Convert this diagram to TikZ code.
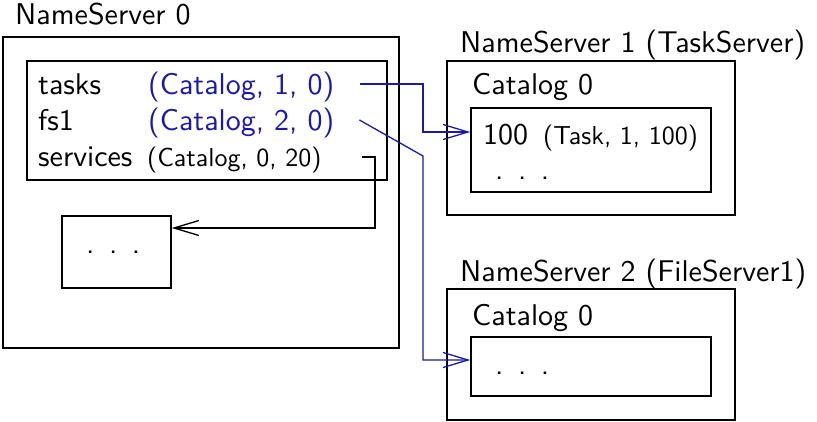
\documentclass[tikz,border=0pt]{standalone}
\usepackage{tikz}
\usepackage{fontspec}
\usetikzlibrary{arrows.meta,positioning}
\definecolor{refblue}{RGB}{25,25,175}
\newfontfamily\tensans{lmsans10-regular.otf}

\begin{document}
\begin{tikzpicture}[x=1pt, y=-1pt, font=\tensans]

% Define styles
\tikzstyle{box} = [rectangle, draw, line width=1.4pt, inner sep=0pt]
\tikzstyle{big} = [inner sep=0pt, anchor=base west, font=\tensans\fontsize{30}{36}\selectfont]
\tikzstyle{small} = [inner sep=0pt, anchor=base west, font=\tensans\fontsize{26}{31}\selectfont]
\tikzstyle{arrow} = [line width=1.3pt, -{Straight Barb[length=25pt,width=15pt]}]
\newcommand{\spread}{.\hspace{14.5pt}.\hspace{14.5pt}.}

\useasboundingbox (0,0) rectangle (817,422);

% NameServer 0
\node [big] (title0) at (15,25) {NameServer 0};
\node [box, minimum width=396pt, minimum height=311pt] (ns0) at (201,192.5) {};
\node [box, minimum width=360pt, minimum height=119pt] (table) at (207,120.5) {};
\node [big] (key1) at (38,95) {tasks};
\node [big] (key2) at (38,131) {fs1};
\node [big] (key3) at (38,167) {services};
\node [big, text=refblue] (val1) at (148,95) {(Catalog, 1, 0)};
\node [big, text=refblue] (val2) at (148,131) {(Catalog, 2, 0)};
\node [small] (val3) at (147,167) {(Catalog, 0, 20)};
\node [box, minimum width=109pt, minimum height=72pt] (more) at (116.5,252) {};
\node [big] (dots0) at (86,254) {\spread};

% NameServer 1
\node [big] (title1) at (460,53) {NameServer 1 (TaskServer)};
\node [box, minimum width=288pt, minimum height=154pt] (ns1) at (591,138) {};
\node [big] (cname1) at (472,95) {Catalog 0};
\node [box, minimum width=240pt, minimum height=84pt] (cat1) at (591,150) {};
\node [big] (entry) at (483,145) {100};
\node [small] (task) at (543,145) {(Task, 1, 100)};
\node [big] (dots1) at (495,180) {\spread};

% NameServer 2
\node [big] (title2) at (460,282) {NameServer 2 (FileServer1)};
\node [box, minimum width=288pt, minimum height=131pt] (ns2) at (591,354.5) {};
\node [big] (cname2) at (472,325) {Catalog 0};
\node [box, minimum width=240pt, minimum height=59pt] (cat2) at (591,366.5) {};
\node [big] (dots2) at (495,374) {\spread};

% Arrows
\draw [arrow, refblue] ([xshift=26pt,yshift=3.5pt]val1.east) -| (423,132) -- ([yshift=18pt]cat1.west);
\draw [arrow, refblue] ([xshift=25pt,yshift=3.5pt]val2.east) -- (423,156) -- (423,360) -- ([yshift=6.5pt]cat2.west);
\draw [arrow] ([xshift=40pt,yshift=3.5pt]val3.east) -| (375,228) -- ([yshift=24pt]more.east);

\end{tikzpicture}
\end{document}
